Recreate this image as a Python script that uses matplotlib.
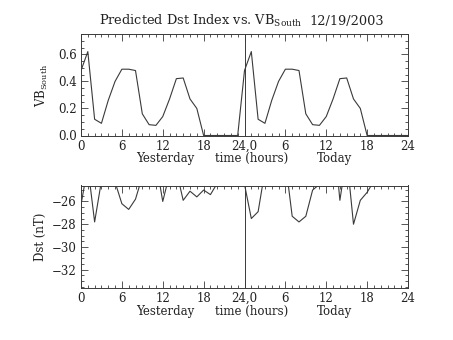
import matplotlib
matplotlib.use("Agg")
import matplotlib.pyplot as plt
from matplotlib.ticker import MultipleLocator, FixedLocator, FixedFormatter

plt.rcParams['font.family'] = ['DejaVu Serif']
plt.rcParams['mathtext.default'] = 'regular'

hours = list(range(49))
vb_south = [0.48, 0.62, 0.12, 0.09, 0.26, 0.40, 0.49, 0.49, 0.48, 0.16, 0.08, 0.075,
            0.14, 0.27, 0.42, 0.425, 0.27, 0.20, 0.0, 0.0, 0.0, 0.0, 0.0, 0.0,
            0.48, 0.62, 0.12, 0.09, 0.26, 0.40, 0.49, 0.49, 0.48, 0.16, 0.08, 0.075,
            0.14, 0.27, 0.42, 0.425, 0.27, 0.20, 0.0, 0.0, 0.0, 0.0, 0.0, 0.0, 0.0]
dst = [-26.3, -22.9, -27.8, -24.2, -24.0, -24.3, -26.2, -26.7, -25.8, -23.8, -23.5, -22.5,
       -26.0, -23.6, -23.3, -25.9, -25.1, -25.6, -25.0, -25.4, -24.4, -24.2, -24.0, -24.2,
       -24.5, -27.5, -26.9, -23.3, -23.5, -23.5, -22.5, -27.3, -27.8, -27.3, -25.0, -24.5,
       -24.0, -19.5, -25.9, -22.0, -28.0, -25.9, -25.2, -24.2, -24.0, -24.0, -24.0, -24.0, -24.0]
xtick_pos = [0, 6, 12, 18, 24, 30, 36, 42, 48]
xtick_labels = ['0', '6', '12', '18', '24,0', '6', '12', '18', '24']
day_split = 24
title_main = 'Predicted Dst Index vs. VB$_{South}$'
title_date = '12/19/2003'

W, H = 453, 340
fig = plt.figure(figsize=(W / 100, H / 100), dpi=100)
lc = '#3a3a3a'
tc = '#222222'
fs = 8.5

def axrect(l, t, r, b):
    return [l / W, 1 - b / H, (r - l) / W, (b - t) / H]

def style(ax):
    ax.set_xlim(0, 48)
    ax.xaxis.set_major_locator(FixedLocator(xtick_pos))
    ax.xaxis.set_major_formatter(FixedFormatter(xtick_labels))
    ax.xaxis.set_minor_locator(MultipleLocator(1))
    ax.tick_params(which='both', direction='in', top=True, right=True,
                   colors=lc, labelcolor=tc, labelsize=fs, width=0.6)
    ax.tick_params(which='major', length=5, pad=3)
    ax.tick_params(which='minor', length=2.5)
    for s in ax.spines.values():
        s.set_color(lc)
        s.set_linewidth(0.7)
    ax.axvline(day_split, color=lc, lw=0.7)
    tr = ax.get_xaxis_transform()
    ax.text(12.4, -0.165, 'Yesterday', transform=tr, ha='center', va='top', fontsize=fs, color=tc)
    ax.text(25.1, -0.165, 'time (hours)', transform=tr, ha='center', va='top', fontsize=fs, color=tc)
    ax.text(37.2, -0.165, 'Today', transform=tr, ha='center', va='top', fontsize=fs, color=tc)

ax1 = fig.add_axes(axrect(81, 34, 408, 135.5))
ax1.plot(hours, vb_south, color=lc, lw=0.8)
ax1.set_ylim(0, 0.75)
ax1.yaxis.set_major_locator(MultipleLocator(0.2))
ax1.yaxis.set_minor_locator(MultipleLocator(0.05))
ax1.yaxis.set_major_formatter(matplotlib.ticker.FormatStrFormatter('%.1f'))
style(ax1)
ax1.set_ylabel('VB$_{South}$', fontsize=fs, color=tc)
ax1.yaxis.set_label_coords(-0.095, 0.5)

ax2 = fig.add_axes(axrect(81, 185.5, 408, 288))
ax2.plot(hours, dst, color=lc, lw=0.8)
ax2.set_ylim(-33.6, -24.6)
ax2.yaxis.set_major_locator(MultipleLocator(2))
ax2.yaxis.set_minor_locator(MultipleLocator(0.5))
ax2.yaxis.set_major_formatter(matplotlib.ticker.FuncFormatter(lambda v, p: '\u2212%d' % abs(round(v))))
style(ax2)
ax2.set_ylabel('Dst (nT)', fontsize=fs, color=tc)
ax2.yaxis.set_label_coords(-0.105, 0.5)

fig.text(99 / W, 1 - 25 / H, title_main, ha='left', va='baseline', fontsize=9.3, color=tc)
fig.text(384 / W, 1 - 25 / H, title_date, ha='right', va='baseline', fontsize=9.3, color=tc)

fig.savefig('out.png', dpi=100, facecolor='white')
